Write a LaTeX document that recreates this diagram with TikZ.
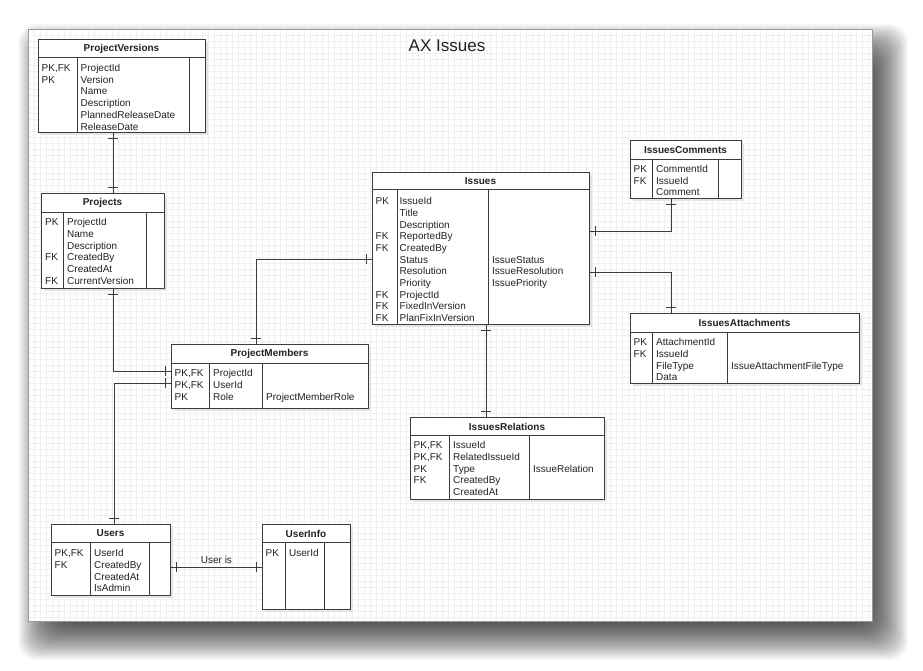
\documentclass[tikz,border=0pt]{standalone}
\usepackage{fontspec}
\setmainfont{Liberation Sans}
\usetikzlibrary{decorations.markings}
\definecolor{ink}{HTML}{222222}
\definecolor{linec}{HTML}{3C3C3C}
\definecolor{gridc}{HTML}{F0F0F0}
\definecolor{framec}{HTML}{9A9A9A}
\tikzset{
  tab/.style={draw=linec, fill=white, line width=0.9pt, inner sep=0pt, anchor=north west},
  tabline/.style={draw=linec, line width=0.9pt},
  tabshadow/.style={fill=black!10},
  rowtext/.style={anchor=base west, inner sep=0pt, text=ink, font=\fontsize{10}{12}\selectfont},
  headtext/.style={inner sep=0pt, text=ink, font=\fontsize{10}{12}\selectfont\bfseries},
  tickmark/.style={draw=linec, line width=0.9pt},
  rel/.style={draw=linec, line width=0.9pt,
    postaction={decorate, decoration={markings,
      mark=at position 6pt with {\draw[tickmark] (0pt,-5pt) -- (0pt,5pt);},
      mark=at position -6pt with {\draw[tickmark] (0pt,-5pt) -- (0pt,5pt);}}}},
}
% #1 name, #2 x1, #3 y1, #4 x2, #5 y2, #6 header bottom, #7 divider1, #8 divider2, #9 title
\newcommand{\erbox}[9]{%
  \fill[tabshadow] (#2+3,#3+3) rectangle (#4+3,#5+3);
  \node[tab, minimum width={#4-#2}, minimum height={#5-#3}] (#1) at (#2,#3) {};
  \draw[tabline] (#2,#6) -- (#4,#6) (#7,#6) -- (#7,#5) (#8,#6) -- (#8,#5);
  \node[headtext] (#1-title) at ({(#2+#4)/2},{(#3+#6)/2+0.5}) {#9};
}
% #1 x, #2 centre of first row, #3 list
\newcommand{\ercol}[3]{%
  \foreach \t [count=\i from 0] in {#3} {\node[rowtext] at (#1,{#2+3.6+\i*11.7}) {\t};}
}
\begin{document}
\begin{tikzpicture}[x=1pt, y=-1pt]
\useasboundingbox (0,0) rectangle (923,671);
\fill[white] (0,0) rectangle (923,671);
% page shadow (soft)
\foreach \i in {0,...,39} {
  \fill[black, opacity=0.022, rounded corners=18pt] ({40-22+\i},{46-22+\i}) rectangle ({886+22-\i},{638+22-\i});
}
% canvas
\fill[white] (28,29) rectangle (872,621);
\foreach \x in {34,40,...,868} {\draw[gridc, line width=0.6pt] (\x,29) -- (\x,621);}
\foreach \y in {35,41,...,617} {\draw[gridc, line width=0.6pt] (28,\y) -- (872,\y);}
\draw[framec, line width=0.8pt] (28,29) rectangle (872,621);

\node[text=ink, font=\fontsize{17}{20}\selectfont] (title) at (447,46) {AX Issues};

% ProjectVersions
\erbox{pv}{38}{39}{205}{132}{57}{77}{189}{ProjectVersions}
\ercol{41.5}{68}{{PK,FK},PK}
\ercol{80.5}{68}{ProjectId,Version,Name,Description,PlannedReleaseDate,ReleaseDate}

% Projects
\erbox{pj}{41}{193}{164}{288}{212}{63}{146}{Projects}
\ercol{45}{222}{PK,{},{},FK,{},FK}
\ercol{67}{222}{ProjectId,Name,Description,CreatedBy,CreatedAt,CurrentVersion}

% ProjectMembers
\erbox{pm}{171}{344}{368}{408}{363}{209}{262}{ProjectMembers}
\ercol{174.5}{373}{{PK,FK},{PK,FK},PK}
\ercol{213}{373}{ProjectId,UserId,Role}
\ercol{266}{373}{{},{},ProjectMemberRole}

% Issues
\erbox{is}{372}{172}{589}{324}{189}{397}{488}{Issues}
\ercol{375.5}{201}{PK,{},{},FK,FK,{},{},{},FK,FK,FK}
\ercol{399.5}{201}{IssueId,Title,Description,ReportedBy,CreatedBy,Status,Resolution,Priority,ProjectId,FixedInVersion,PlanFixInVersion}
\ercol{492}{201}{{},{},{},{},{},IssueStatus,IssueResolution,IssuePriority}

% IssuesComments
\erbox{ic}{630}{140}{741}{198}{159}{652}{718}{IssuesComments}
\ercol{633.5}{169}{PK,FK}
\ercol{656}{169}{CommentId,IssueId,Comment}

% IssuesAttachments
\erbox{ia}{630}{313}{859}{383}{332}{652}{727}{IssuesAttachments}
\ercol{633.5}{342}{PK,FK}
\ercol{656}{342}{AttachmentId,IssueId,FileType,Data}
\ercol{731}{342}{{},{},IssueAttachmentFileType}

% IssuesRelations
\erbox{ir}{410}{417}{604}{499}{435}{449}{529}{IssuesRelations}
\ercol{413.5}{445}{{PK,FK},{PK,FK},PK,FK}
\ercol{453}{445}{IssueId,RelatedIssueId,Type,CreatedBy,CreatedAt}
\ercol{533}{445}{{},{},IssueRelation}

% Users
\erbox{us}{51}{524}{170}{595}{542}{90}{149}{Users}
\ercol{54.5}{553}{{PK,FK},FK}
\ercol{94}{553}{UserId,CreatedBy,CreatedAt,IsAdmin}

% UserInfo
\erbox{ui}{262}{524}{350}{609}{542}{285}{324}{UserInfo}
\ercol{265.5}{553}{PK}
\ercol{289}{553}{UserId}

% relationships
\draw[rel] (pv.south -| 113,0) -- (pj.north -| 113,0);
\draw[rel] (pj.south -| 113,0) |- (pm.west |- 0,371);
\draw[rel] (us.north -| 114,0) |- (pm.west |- 0,383);
\draw[rel] (pm.north -| 256,0) |- (is.west |- 0,259);
\draw[rel] (is.east |- 0,231) -| (ic.south -| 671,0);
\draw[rel] (is.east |- 0,272) -| (ia.north -| 671,0);
\draw[rel] (is.south -| 486,0) -- (ir.north -| 486,0);
\draw[rel] (us.east |- 0,567) -- node[rowtext, anchor=base, above=0pt, yshift=3pt] {User is} (ui.west |- 0,567);
\end{tikzpicture}
\end{document}
